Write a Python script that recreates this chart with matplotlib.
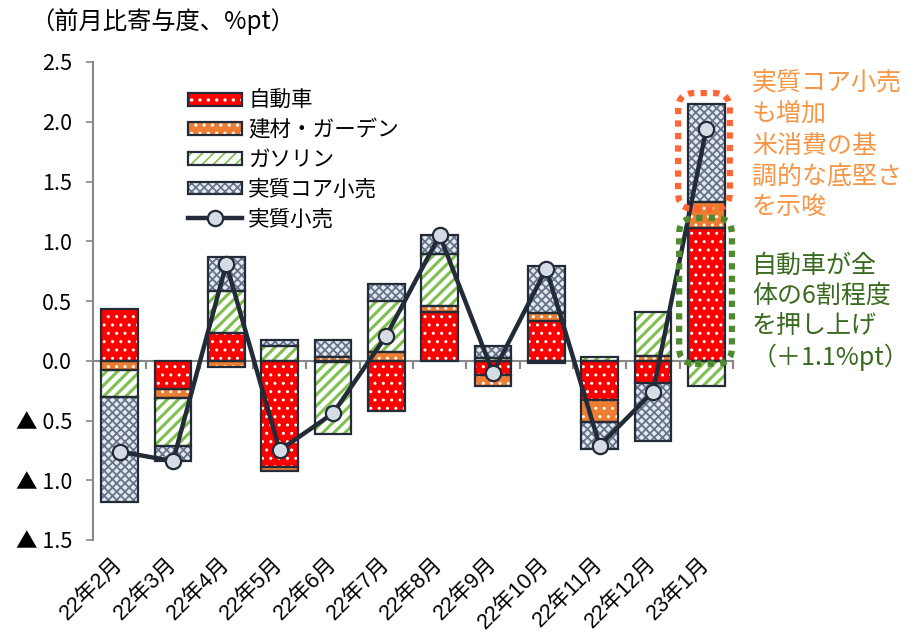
import numpy as np
import matplotlib
matplotlib.use("Agg")
import matplotlib.pyplot as plt
import matplotlib.patches as mpatches
from matplotlib.lines import Line2D
from matplotlib.ticker import FuncFormatter

plt.rcParams['font.family'] = ['Noto Sans CJK JP', 'DejaVu Sans']
plt.rcParams['hatch.linewidth'] = 1.2

months = ['22年2月', '22年3月', '22年4月', '22年5月', '22年6月', '22年7月',
          '22年8月', '22年9月', '22年10月', '22年11月', '22年12月', '23年1月']
auto = [0.43, -0.24, 0.23, -0.89, -0.01, -0.42, 0.41, -0.12, 0.33, -0.33, -0.19, 1.11]
building = [-0.08, -0.07, -0.05, -0.03, 0.03, 0.07, 0.05, -0.09, 0.07, -0.18, 0.04, 0.22]
gasoline = [-0.22, -0.40, 0.35, 0.125, -0.60, 0.43, 0.43, 0.02, -0.02, 0.03, 0.37, -0.21]
core = [-0.88, -0.13, 0.29, 0.05, 0.14, 0.14, 0.16, 0.10, 0.39, -0.23, -0.48, 0.82]
retail = [-0.76, -0.84, 0.81, -0.75, -0.44, 0.21, 1.05, -0.10, 0.77, -0.71, -0.26, 1.94]

names = ['自動車', '建材・ガーデン', 'ガソリン', '実質コア小売']
line_name = '実質小売'

DARK = '#232b38'
styles = [
    dict(facecolor='#ff0000', edgecolor='white', hatch='..'),
    dict(facecolor='#ed7d31', edgecolor='white', hatch='..'),
    dict(facecolor='white', edgecolor='#7fbf4f', hatch='///'),
    dict(facecolor='#e4e8ef', edgecolor='#66748a', hatch='xxxx'),
]
hatch_lw = [1.0, 1.0, 2.2, 1.3]

fig = plt.figure(figsize=(9.1, 6.38), dpi=100)
ax = fig.add_axes([93 / 910, 1 - 540 / 638, 640 / 910, 478 / 638])

x = np.arange(len(months))
width = 0.69
pos = np.zeros(len(x))
neg = np.zeros(len(x))
handles = []
for vals, st, hlw in zip([auto, building, gasoline, core], styles, hatch_lw):
    v = np.array(vals)
    bottom = np.where(v >= 0, pos, neg)
    with plt.rc_context({'hatch.linewidth': hlw}):
        ax.bar(x, v, width, bottom=bottom, linewidth=0, zorder=2, **st)
        fill_handle = mpatches.Patch(linewidth=0, **st)
    ax.bar(x, v, width, bottom=bottom, fill=False, edgecolor=DARK,
           linewidth=1.6, zorder=3)
    pos = pos + np.where(v >= 0, v, 0)
    neg = neg + np.where(v < 0, v, 0)
    handles.append((fill_handle,
                    mpatches.Patch(fill=False, edgecolor=DARK, linewidth=1.6)))

ax.plot(x, retail, color=DARK, linewidth=3.2, marker='o', markersize=11,
        markerfacecolor='#d6dce5', markeredgecolor=DARK, markeredgewidth=1.6,
        zorder=5)
handles.append(Line2D([], [], color=DARK, linewidth=3.2, marker='o', markersize=11,
                      markerfacecolor='#d6dce5', markeredgecolor=DARK,
                      markeredgewidth=1.6))

ax.set_xlim(-0.5, len(x) - 0.5)
ax.set_ylim(-1.5, 2.5)
ax.set_yticks(np.arange(-1.5, 2.51, 0.5))
ax.yaxis.set_major_formatter(FuncFormatter(
    lambda v, p: f'{v:.1f}' if v >= -1e-9 else f'▲ {abs(v):.1f}'))
ax.tick_params(axis='y', direction='out', length=5, color='#888888', width=1.2,
               labelsize=15.5, pad=10)

ax.set_xticks(x)
ax.set_xticklabels(months, rotation=45, ha='right', va='center',
                   rotation_mode='anchor', fontsize=15.5,
                   family=['Liberation Sans', 'Noto Sans CJK JP'])
ax.tick_params(axis='x', length=0, pad=15)

for side in ['top', 'right', 'bottom']:
    ax.spines[side].set_visible(False)
ax.spines['left'].set_color('#888888')
ax.spines['left'].set_linewidth(1.5)

zero = ax.secondary_xaxis(0, transform=ax.transData)
zero.set_xticks(np.arange(len(x) + 1) - 0.5)
zero.set_xticklabels([])
zero.tick_params(direction='out', length=6, color='#888888', width=1.5)
zero.spines['bottom'].set_color('#888888')
zero.spines['bottom'].set_linewidth(1.5)

ax.legend(handles, names + [line_name], loc='upper left',
          bbox_to_anchor=(188 / 910, 1 - 90 / 638), bbox_transform=fig.transFigure,
          frameon=False, fontsize=15.5, handlelength=2.5, handleheight=0.55,
          handletextpad=0.3, labelspacing=0.35, borderpad=0, borderaxespad=0)

# dotted highlight boxes on the last bar
last = len(x) - 1
aspect = 53.3 / 119.5
top_core = pos[last]
base_core = auto[last] + building[last]
ax.add_patch(mpatches.FancyBboxPatch(
    (last - 0.53, base_core - 0.06), 0.97, top_core - base_core + 0.15,
    boxstyle='round,pad=0,rounding_size=0.3', mutation_aspect=aspect,
    fill=False, edgecolor='#ff6633', linewidth=4.5, linestyle=(0, (1, 1)),
    zorder=6, clip_on=False))
ax.add_patch(mpatches.FancyBboxPatch(
    (last - 0.51, -0.025), 0.99, auto[last] + 0.11,
    boxstyle='round,pad=0,rounding_size=0.3', mutation_aspect=aspect,
    fill=False, edgecolor='#4e8a2e', linewidth=4.5, linestyle=(0, (1, 1)),
    zorder=6, clip_on=False))

fig.text(30 / 910, 1 - 22 / 638, '（前月比寄与度、%pt）', fontsize=17.5, va='center')
fig.text(752 / 910, 1 - 70 / 638, '実質コア小売\nも増加', fontsize=18,
         color='#f79646', va='top', linespacing=1.23)
fig.text(752 / 910, 1 - 133 / 638, '米消費の基\n調的な底堅さ\nを示唆', fontsize=18,
         color='#f79646', va='top', linespacing=1.23)
fig.text(752 / 910, 1 - 253 / 638, '自動車が全\n体の6割程度\nを押し上げ\n（＋1.1%pt）',
         fontsize=18, color='#3a6a1f', va='top', linespacing=1.2)

fig.savefig('out.png', dpi=100)
